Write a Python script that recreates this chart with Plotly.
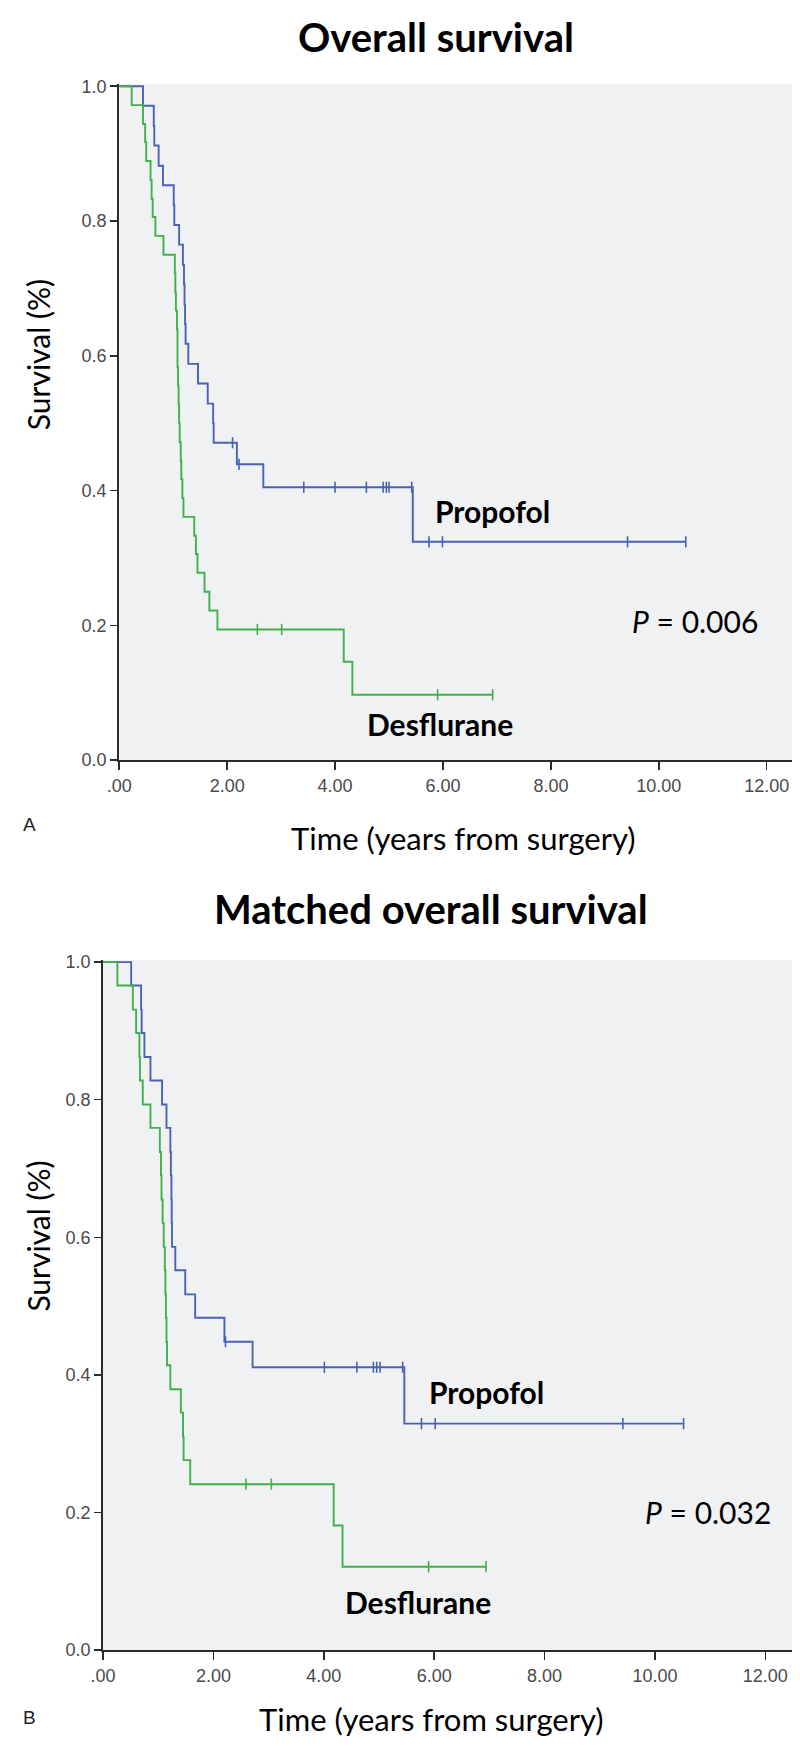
import numpy as np
import plotly.graph_objects as go

# ---------- Panel A: Overall survival ----------
a_prop_time = [0.00, 0.44, 0.64, 0.65, 0.73, 0.81, 1.01, 1.02, 1.11, 1.18, 1.20, 1.21, 1.22, 1.23, 1.28, 1.46, 1.64, 1.74, 1.75, 2.18, 2.67, 5.44]
a_prop_surv = [1.000, 0.971, 0.941, 0.912, 0.882, 0.853, 0.824, 0.794, 0.765, 0.735, 0.706, 0.676, 0.647, 0.618, 0.588, 0.559, 0.529, 0.500, 0.471, 0.439, 0.405, 0.324]
a_prop_censor = [2.10, 2.22, 3.42, 4.00, 4.58, 4.89, 4.95, 5.00, 5.42, 5.74, 5.99, 9.42, 10.50]

a_desf_time = [0.00, 0.23, 0.44, 0.48, 0.50, 0.58, 0.60, 0.62, 0.67, 0.82, 1.03, 1.04, 1.05, 1.07, 1.08, 1.08, 1.09, 1.10, 1.11, 1.12, 1.14, 1.15, 1.17, 1.19, 1.39, 1.42, 1.45, 1.58, 1.67, 1.82, 4.16, 4.32]
a_desf_surv = [1.000, 0.972, 0.944, 0.917, 0.889, 0.861, 0.833, 0.806, 0.778, 0.750, 0.722, 0.694, 0.667, 0.639, 0.611, 0.583, 0.556, 0.528, 0.500, 0.472, 0.444, 0.417, 0.389, 0.361, 0.333, 0.306, 0.278, 0.250, 0.222, 0.194, 0.146, 0.097]
a_desf_censor = [2.56, 3.01, 5.90, 6.92]

# ---------- Panel B: Matched overall survival ----------
b_prop_time = [0.00, 0.51, 0.69, 0.70, 0.75, 0.86, 1.07, 1.15, 1.22, 1.23, 1.24, 1.245, 1.25, 1.31, 1.49, 1.67, 2.20, 2.71, 5.46]
b_prop_surv = [1.000, 0.966, 0.931, 0.897, 0.862, 0.828, 0.793, 0.759, 0.724, 0.690, 0.655, 0.621, 0.586, 0.552, 0.517, 0.483, 0.448, 0.411, 0.329]
b_prop_censor = [2.22, 4.01, 4.60, 4.90, 4.96, 5.02, 5.43, 5.77, 6.02, 9.42, 10.52]

b_desf_time = [0.00, 0.26, 0.54, 0.60, 0.66, 0.67, 0.72, 0.86, 1.03, 1.05, 1.06, 1.08, 1.10, 1.12, 1.13, 1.14, 1.15, 1.16, 1.22, 1.41, 1.45, 1.46, 1.58, 4.18, 4.34]
b_desf_surv = [1.000, 0.966, 0.931, 0.897, 0.862, 0.828, 0.793, 0.759, 0.724, 0.690, 0.655, 0.621, 0.586, 0.552, 0.517, 0.483, 0.448, 0.414, 0.379, 0.345, 0.310, 0.276, 0.241, 0.181, 0.121]
b_desf_censor = [2.59, 3.05, 5.90, 6.94]

x_tick_vals = [0, 2, 4, 6, 8, 10, 12]
x_tick_text = [".00", "2.00", "4.00", "6.00", "8.00", "10.00", "12.00"]
y_tick_vals = [0, 0.2, 0.4, 0.6, 0.8, 1.0]
y_tick_text = ["0.0", "0.2", "0.4", "0.6", "0.8", "1.0"]

titles = ["Overall survival", "Matched overall survival"]
p_values = ["0.006", "0.032"]
group_names = ["Propofol", "Desflurane"]

BLUE = "#4A62B5"
GREEN = "#41B04C"
W, H = 800, 1749

fig = go.Figure()


def add_km(times, surv, censor, color, xa, ya, name):
    times = list(times)
    surv = list(surv)
    end = max(censor[-1], times[-1])
    fig.add_trace(go.Scatter(
        x=times + [end], y=surv + [surv[-1]], mode="lines",
        line=dict(color=color, width=1.9, shape="hv"),
        xaxis=xa, yaxis=ya, name=name, showlegend=False, hoverinfo="skip"))
    t = np.array(times)
    idx = np.searchsorted(t, np.array(censor), side="right") - 1
    lev = [surv[i] for i in idx]
    fig.add_trace(go.Scatter(
        x=censor, y=lev, mode="markers",
        marker=dict(symbol="line-ns", size=8, line=dict(color=color, width=1.6), color=color),
        xaxis=xa, yaxis=ya, showlegend=False, hoverinfo="skip", cliponaxis=False))


add_km(a_prop_time, a_prop_surv, a_prop_censor, BLUE, "x", "y", "Propofol")
add_km(a_desf_time, a_desf_surv, a_desf_censor, GREEN, "x", "y", "Desflurane")
add_km(b_prop_time, b_prop_surv, b_prop_censor, BLUE, "x2", "y2", "Propofol")
add_km(b_desf_time, b_desf_surv, b_desf_censor, GREEN, "x2", "y2", "Desflurane")

# pixel geometry of the two panels
top = dict(x0=108, x1=792, y0=760, y1=77, xmax=(792 - 108) / 54.85)
bot = dict(x0=91.5, x1=792, y0=1659, y1=962, xmax=(792 - 91.5) / 56.1)


def px(v):
    return v / W


def py(v):
    return 1 - v / H


axis_common = dict(showgrid=False, zeroline=False, showline=True, linecolor="#2b2b2b",
                   linewidth=2, ticks="outside", tickcolor="#2b2b2b", tickwidth=1.5,
                   tickfont=dict(family="Liberation Sans, Arial, sans-serif", size=18, color="#4a4a4a"))

fig.update_layout(
    width=W, height=H, margin=dict(l=0, r=0, t=0, b=0),
    paper_bgcolor="white", plot_bgcolor="#F0F1F3",
    xaxis=dict(domain=[px(top["x0"]), px(top["x1"])], range=[0, top["xmax"]],
               tickvals=x_tick_vals, ticktext=x_tick_text, ticklen=8, anchor="y", **axis_common),
    yaxis=dict(domain=[py(top["y0"]), py(top["y1"])], range=[0, 1.003],
               tickvals=y_tick_vals, ticktext=y_tick_text, ticklen=7, anchor="x", **axis_common),
    xaxis2=dict(domain=[px(bot["x0"]), px(bot["x1"])], range=[0, bot["xmax"]],
                tickvals=x_tick_vals, ticktext=x_tick_text, ticklen=8, anchor="y2", **axis_common),
    yaxis2=dict(domain=[py(bot["y0"]), py(bot["y1"])], range=[0, 1.003],
                tickvals=y_tick_vals, ticktext=y_tick_text, ticklen=7, anchor="x2", **axis_common),
)

CAL = "Lato, Carlito, Calibri, sans-serif"
ann = []
# titles
ann.append(dict(text="<b>" + titles[0] + "</b>", x=px(430), y=py(29), xref="paper", yref="paper",
                showarrow=False, font=dict(family=CAL, size=40, color="black"), xanchor="center", yanchor="middle"))
ann.append(dict(text="<b>" + titles[1] + "</b>", x=px(425), y=py(910), xref="paper", yref="paper",
                showarrow=False, font=dict(family=CAL, size=40, color="black"), xanchor="center", yanchor="middle"))
# x-axis titles
ann.append(dict(text="Time (years from surgery)", x=px(458), y=py(839), xref="paper", yref="paper",
                showarrow=False, font=dict(family=CAL, size=31, color="black"), xanchor="center", yanchor="middle"))
ann.append(dict(text="Time (years from surgery)", x=px(425), y=py(1729), xref="paper", yref="paper",
                showarrow=False, font=dict(family=CAL, size=31, color="black"), xanchor="center", yanchor="middle"))
# y-axis titles
ann.append(dict(text="Survival (%)", x=px(25), y=py(top["y0"] - 0.6 * (top["y0"] - top["y1"])), xref="paper", yref="paper",
                showarrow=False, textangle=-90, font=dict(family=CAL, size=30, color="black"),
                xanchor="center", yanchor="middle"))
ann.append(dict(text="Survival (%)", x=px(25), y=py(bot["y0"] - 0.6 * (bot["y0"] - bot["y1"])), xref="paper", yref="paper",
                showarrow=False, textangle=-90, font=dict(family=CAL, size=30, color="black"),
                xanchor="center", yanchor="middle"))
# panel letters
ann.append(dict(text="A", x=px(17), y=py(825), xref="paper", yref="paper", showarrow=False,
                font=dict(family="Liberation Sans, Arial", size=19, color="#222"), xanchor="center", yanchor="middle"))
ann.append(dict(text="B", x=px(17), y=py(1727), xref="paper", yref="paper", showarrow=False,
                font=dict(family="Liberation Sans, Arial", size=19, color="#222"), xanchor="center", yanchor="middle"))
# group labels, P values (data coords)
ann.append(dict(text="<b>" + group_names[0] + "</b>", x=5.81, y=0.370, xref="x", yref="y", showarrow=False,
                font=dict(family=CAL, size=30, color="black"), xanchor="left", yanchor="middle"))
ann.append(dict(text="<b>" + group_names[1] + "</b>", x=4.55, y=0.053, xref="x", yref="y", showarrow=False,
                font=dict(family=CAL, size=30, color="black"), xanchor="left", yanchor="middle"))
ann.append(dict(text="<i>P</i> = " + p_values[0], x=9.46, y=0.207, xref="x", yref="y", showarrow=False,
                font=dict(family=CAL, size=30, color="black"), xanchor="left", yanchor="middle"))
ann.append(dict(text="<b>" + group_names[0] + "</b>", x=5.87, y=0.375, xref="x2", yref="y2", showarrow=False,
                font=dict(family=CAL, size=30, color="black"), xanchor="left", yanchor="middle"))
ann.append(dict(text="<b>" + group_names[1] + "</b>", x=4.34, y=0.069, xref="x2", yref="y2", showarrow=False,
                font=dict(family=CAL, size=30, color="black"), xanchor="left", yanchor="middle"))
ann.append(dict(text="<i>P</i> = " + p_values[1], x=9.78, y=0.201, xref="x2", yref="y2", showarrow=False,
                font=dict(family=CAL, size=30, color="black"), xanchor="left", yanchor="middle"))

fig.update_layout(annotations=ann)
# remove the browser's default 8px body margin so the 800x1749 figure fills the window exactly
fig.write_html("out.html", config={"displayModeBar": False, "staticPlot": True},
               post_script="document.body.style.margin='0px';document.body.style.overflow='hidden';")
